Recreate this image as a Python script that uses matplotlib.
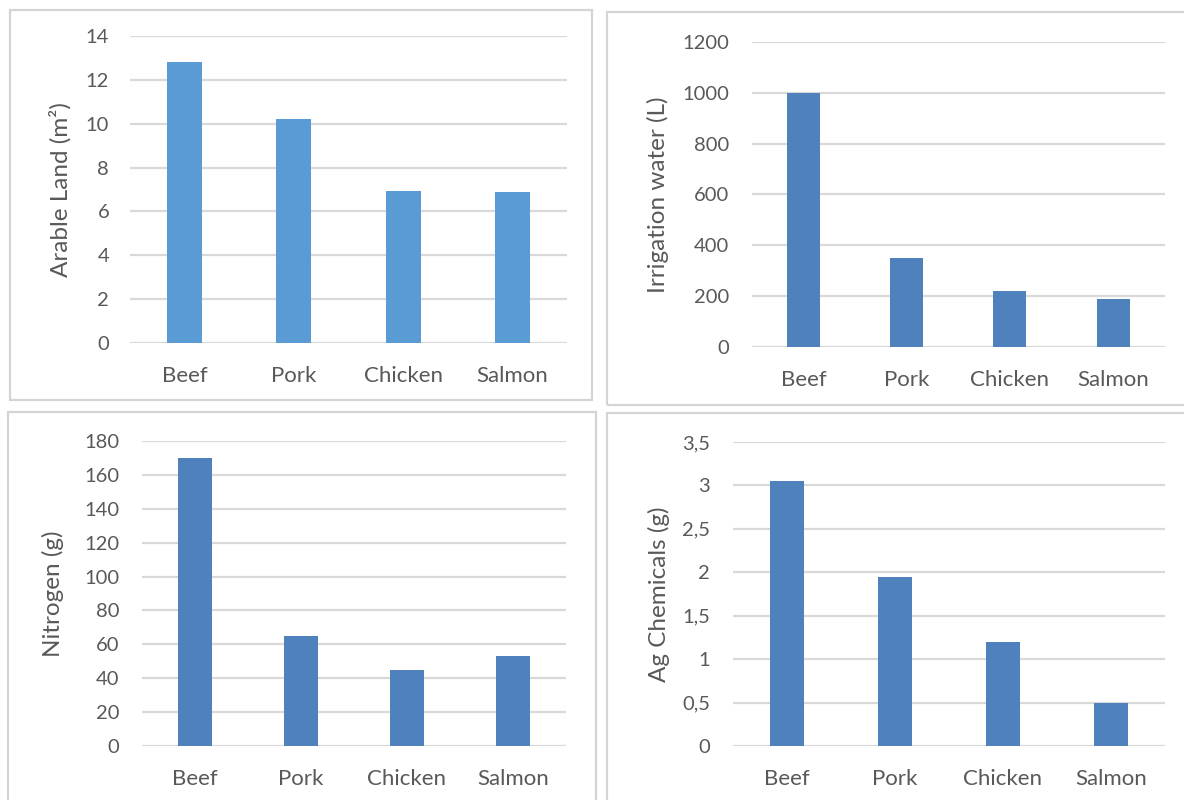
#! /usr/bin/env python3

'''bar charts of resource use per serving for four protein sources'''

import matplotlib
matplotlib.use('Agg')
import matplotlib.pyplot as plt
from matplotlib.patches import Rectangle

plt.rcParams['font.family'] = ['Lato', 'DejaVu Sans']

foods = ['Beef', 'Pork', 'Chicken', 'Salmon']

arableLand = [12.8, 10.2, 6.95, 6.9]
irrigationWater = [1000, 350, 220, 190]
nitrogen = [170, 65, 45, 53]
agChemicals = [3.05, 1.95, 1.2, 0.5]

arableTicks = [0, 2, 4, 6, 8, 10, 12, 14]
waterTicks = [0, 200, 400, 600, 800, 1000, 1200]
nitrogenTicks = [0, 20, 40, 60, 80, 100, 120, 140, 160, 180]
chemTicks = [0, 0.5, 1, 1.5, 2, 2.5, 3, 3.5]
chemTickLabels = ['0', '0,5', '1', '1,5', '2', '2,5', '3', '3,5']

textGray = '#595959'
gridGray = '#d9d9d9'


def bar_panel(fig, rect, values, ticks, ylabel, color, tickpad, labelx, ticklabels=None):
    ax = fig.add_axes(rect)
    x = range(len(foods))
    ax.bar(x, values, width=0.32, color=color, zorder=3)
    ax.set_xlim(-0.5, len(foods) - 0.5)
    ax.set_ylim(ticks[0], ticks[-1])
    ax.set_yticks(ticks)
    if ticklabels is not None:
        ax.set_yticklabels(ticklabels)
    ax.set_xticks(list(x))
    ax.set_xticklabels(foods)
    ax.grid(axis='y', color=gridGray, linewidth=1.6, zorder=0)
    for s in ax.spines.values():
        s.set_visible(False)
    ax.tick_params(axis='both', length=0, labelsize=14.5, labelcolor=textGray)
    ax.tick_params(axis='x', labelsize=16, pad=16.5)
    ax.tick_params(axis='y', pad=tickpad)
    ax.set_ylabel(ylabel, fontsize=17.5, color=textGray)
    ax.yaxis.set_label_coords(labelx, 0.5)
    return ax


fig = plt.figure(figsize=(11.84, 8), dpi=100)

# light frames around each panel (figure pixel coords)
frames = [(10, 10, 592, 400), (607, 12, 1190, 405), (8, 412, 596, 806), (607, 413, 1190, 806)]
for x0, y0, x1, y1 in frames:
    fig.patches.append(Rectangle((x0 / 1184, 1 - y1 / 800), (x1 - x0) / 1184, (y1 - y0) / 800,
                                 transform=fig.transFigure, fill=False,
                                 edgecolor='#d4d4d4', linewidth=1.6))

bar_panel(fig, [0.1098, 0.5713, 0.369, 0.3838], arableLand, arableTicks,
          'Arable Land (m²)', '#5b9bd5', 15, -0.133)
bar_panel(fig, [0.635, 0.5663, 0.3488, 0.3813], irrigationWater, waterTicks,
          'Irrigation water (L)', '#4f81bd', 16.5, -0.201)
bar_panel(fig, [0.1199, 0.0675, 0.358, 0.3813], nitrogen, nitrogenTicks,
          'Nitrogen (g)', '#4f81bd', 16.5, -0.184)
bar_panel(fig, [0.619, 0.0675, 0.365, 0.38], agChemicals, chemTicks,
          'Ag Chemicals (g)', '#4f81bd', 16.5, -0.146, chemTickLabels)

fig.savefig('out.png', dpi=100)
